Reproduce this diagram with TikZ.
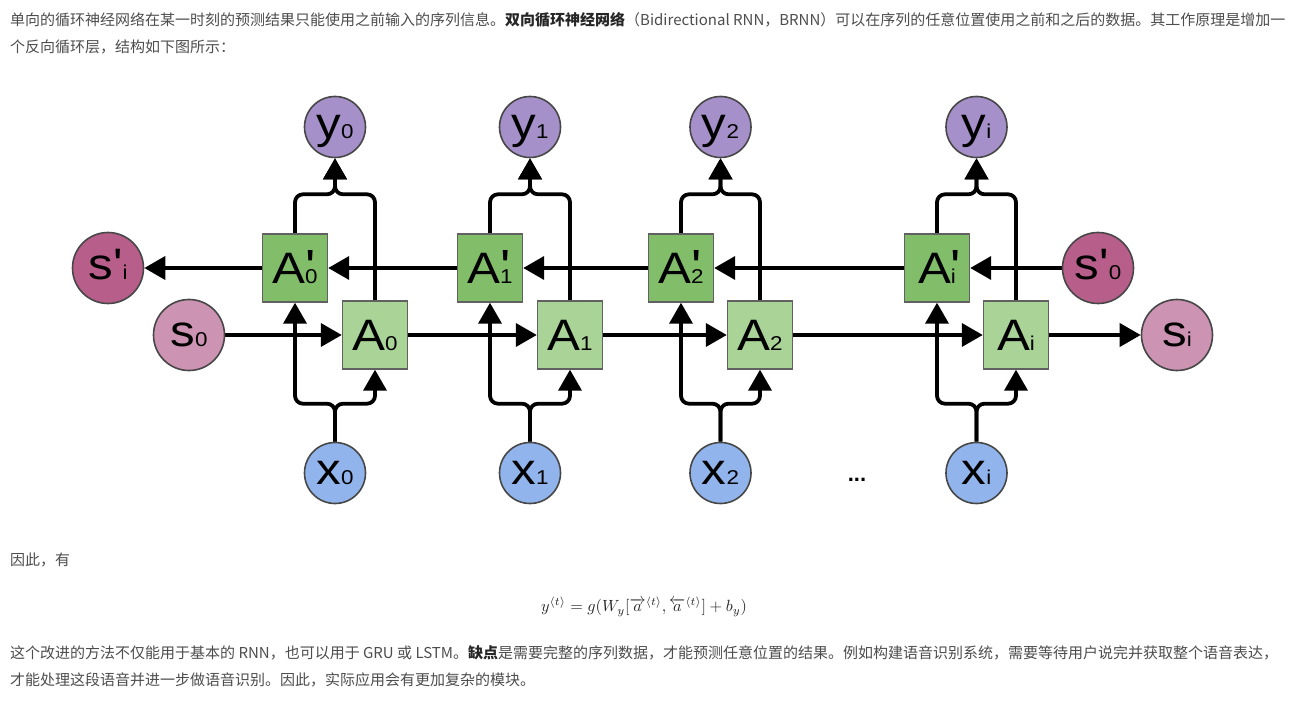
\documentclass[tikz,border=0pt]{standalone}
\usepackage{amsmath}
\usepackage{fontspec}
\setmainfont{Liberation Sans}
\newfontfamily\cjk{Noto Sans CJK SC}
\usetikzlibrary{arrows.meta,calc}
\pgfdeclarelayer{bg}\pgfdeclarelayer{paper}\pgfsetlayers{paper,bg,main}
\definecolor{cy}{HTML}{A690CA}
\definecolor{cx}{HTML}{92B4EC}
\definecolor{cs}{HTML}{CD93B3}
\definecolor{csp}{HTML}{B85E8B}
\definecolor{cap}{HTML}{82BE6A}
\definecolor{ca}{HTML}{A9D397}
\definecolor{txt}{HTML}{4D4D4D}
\newcommand\lbl[2]{\scalebox{1.12}[1]{\fontsize{44}{44}\selectfont #1\fontsize{20}{20}\selectfont #2}}
\newcommand\lblA[2]{\scalebox{1.12}[1]{\fontsize{44}{44}\selectfont #1\rlap{\fontsize{48}{48}\selectfont\textquotesingle}\fontsize{20}{20}\selectfont #2}}
\newcommand\lblS[2]{\scalebox{1.12}[1]{\fontsize{44}{44}\selectfont #1\textquotesingle\fontsize{20}{20}\selectfont #2}}
\tikzset{
  circ/.style={circle, draw=black!72, line width=1.6pt, minimum size=61pt, inner sep=0pt, text height=23pt, text depth=0pt},
  bigcirc/.style={circ, minimum size=71pt},
  cellbox/.style={draw=black!62, line width=1.4pt, minimum width=65pt, minimum height=68pt, inner sep=0pt, text height=31.5pt, text depth=0pt},
  conn/.style={line width=3.8pt, line join=round, rounded corners=8pt},
  arr/.style={conn, -{Triangle[length=21pt,width=23pt]}},
  para/.style={anchor=west, inner sep=0pt, text=txt, font=\cjk\fontsize{15}{15}\selectfont}
}
\begin{document}
\begin{tikzpicture}[x=1pt,y=-1pt]
\begin{pgfonlayer}{paper}
\fill[white] (0,0) rectangle (1296,711);
\end{pgfonlayer}
\useasboundingbox (0,0) rectangle (1296,711);

% text
\node[para] (p1) at (10,20) {单向的循环神经网络在某一时刻的预测结果只能使用之前输入的序列信息。\textbf{\color{black!85}双向循环神经网络}（Bidirectional RNN，BRNN）可以在序列的任意位置使用之前和之后的数据。其工作原理是增加一};
\node[para] (p2) at (10,47) {个反向循环层，结构如下图所示：};
\node[para] (p3) at (10,560) {因此，有};
\node[text=black!85] (eq) at (644,607) {\scalebox{1.62}{$y^{\langle t\rangle}=g(W_y[\overrightarrow{a}^{\langle t\rangle},\overleftarrow{a}^{\langle t\rangle}]+b_y)$}};
\node[para] (p4) at (10,653) {这个改进的方法不仅能用于基本的 RNN，也可以用于 GRU 或 LSTM。\textbf{\color{black!85}缺点}是需要完整的序列数据，才能预测任意位置的结果。例如构建语音识别系统，需要等待用户说完并获取整个语音表达，};
\node[para] (p5) at (10,680) {才能处理这段语音并进一步做语音识别。因此，实际应用会有更加复杂的模块。};

% cells
\foreach \n/\ap/\a in {0/295/375, 1/490/570, 2/681/760, i/937/1016}{
  \node[cellbox, fill=cap] (Ap\n) at (\ap,268) {\lblA{A}{\n}};
  \node[cellbox, fill=ca] (A\n) at (\a,335) {\lbl{A}{\n}};
  \node[circ, fill=cy] (y\n) at ({(\ap+\a)/2},127) {\lbl{y}{\n}};
  \node[circ, fill=cx] (x\n) at ({(\ap+\a)/2},473) {\lbl{x}{\n}};
}
\node[bigcirc, fill=csp] (spi) at (108,268) {\lblS{s}{i}};
\node[bigcirc, fill=cs] (s0) at (189,335) {\lbl{s}{0}};
\node[bigcirc, fill=csp] (sp0) at (1098,268) {\lblS{s}{0}};
\node[bigcirc, fill=cs] (si) at (1177,335) {\lbl{s}{i}};
\node[font=\bfseries\fontsize{22}{22}\selectfont] (dots) at (857,480) {...};

\begin{pgfonlayer}{bg}
\foreach \n in {0,1,2,i}{
  \draw[arr] (Ap\n.north) |- ($(y\n.south)+(0,36)$) -- (y\n.south);
  \draw[arr] (A\n.north) |- ($(y\n.south)+(0,36)$) -- (y\n.south);
  \draw[arr] (x\n.north) -- ($(x\n.north)+(0,-38)$) -| (Ap\n.south);
  \draw[arr] (x\n.north) -- ($(x\n.north)+(0,-38)$) -| (A\n.south);
}
\draw[arr] (sp0) -- (Api);
\draw[arr] (Api) -- (Ap2);
\draw[arr] (Ap2) -- (Ap1);
\draw[arr] (Ap1) -- (Ap0);
\draw[arr] (Ap0) -- (spi);
\draw[arr] (s0) -- (A0);
\draw[arr] (A0) -- (A1);
\draw[arr] (A1) -- (A2);
\draw[arr] (A2) -- (Ai);
\draw[arr] (Ai) -- (si);
\end{pgfonlayer}
\end{tikzpicture}
\end{document}
